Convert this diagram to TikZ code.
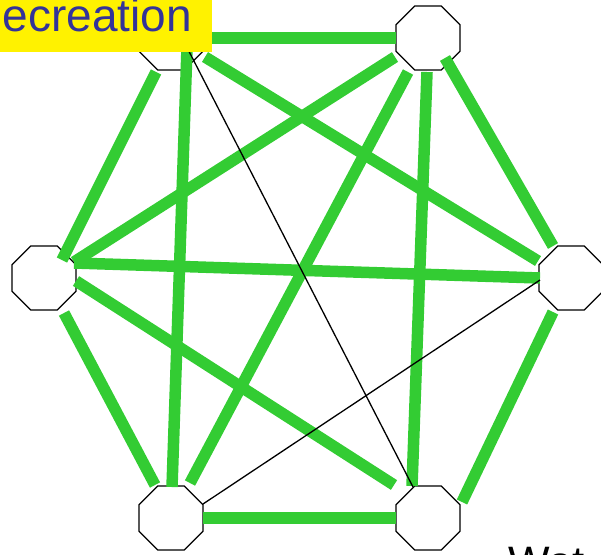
\documentclass[tikz,border=0pt]{standalone}
\usepackage{fontspec}
\setmainfont{Liberation Sans}
\usetikzlibrary{shapes.geometric}
\definecolor{edgegreen}{RGB}{51,204,51}
\definecolor{lblblue}{RGB}{51,51,153}
\tikzset{
  oct/.style={regular polygon, regular polygon sides=8, minimum size=69.3pt, inner sep=0pt, draw=black, line width=1.3pt, fill=white},
  gedge/.style={draw=edgegreen, line width=11.5pt, line cap=butt},
  bedge/.style={draw=black, line width=1.3pt},
  lblbox/.style={fill=yellow, text=lblblue, font=\fontsize{46pt}{52pt}\selectfont, inner xsep=20pt, inner ysep=0pt, text height=33pt, text depth=20pt, anchor=south east},
  wtext/.style={font=\fontsize{44pt}{50pt}\selectfont, inner sep=0pt, anchor=base west}
}
\begin{document}
\begin{tikzpicture}[x=1pt,y=-1pt]
\clip (0,0) rectangle (601,554);
\node[oct] (TL) at (171,38) {};
\node[oct] (TR) at (428,38) {};
\node[oct] (L) at (44,278) {};
\node[oct] (R) at (571,278) {};
\node[oct] (BL) at (171,518) {};
\node[oct] (BR) at (428,518) {};
% green edges
\draw[gedge] ([shift={(32,0)}]TL.center) -- ([shift={(-32,0)}]TR.center);
\draw[gedge] ([shift={(-15,34)}]TL.center) -- ([shift={(18,-18)}]L.center);
\draw[gedge] ([shift={(16,10)}]TL.center) -- ([shift={(1,-31)}]BL.center);
\draw[gedge] ([shift={(34,19)}]TL.center) -- ([shift={(-33,-17)}]R.center);
\draw[gedge] ([shift={(-33,19)}]TR.center) -- ([shift={(30,-16)}]L.center);
\draw[gedge] ([shift={(-20,34)}]TR.center) -- ([shift={(19,-35)}]BL.center);
\draw[gedge] ([shift={(-1,34)}]TR.center) -- ([shift={(-16,-32)}]BR.center);
\draw[gedge] ([shift={(17,20)}]TR.center) -- ([shift={(-18,-32)}]R.center);
\draw[gedge] ([shift={(30,-15)}]L.center) -- ([shift={(-31,0)}]R.center);
\draw[gedge] ([shift={(32,3)}]L.center) -- ([shift={(-34,-33)}]BR.center);
\draw[gedge] ([shift={(20,35)}]L.center) -- ([shift={(-16,-33)}]BL.center);
\draw[gedge] ([shift={(-18,34)}]R.center) -- ([shift={(34,-16)}]BR.center);
\draw[gedge] ([shift={(32,0)}]BL.center) -- ([shift={(-32,0)}]BR.center);
% black edges
\draw[bedge] ([shift={(7,-8)}]TL.center) -- ([shift={(-15,-31)}]BR.center);
\draw[bedge] ([shift={(-31,2)}]R.center) -- ([shift={(32,-14)}]BL.center);
% texts
\node[lblbox] (lbl) at (212,52) {ecreation};
\node[wtext] (wat) at (508,577.5) {Wat};
\end{tikzpicture}
\end{document}
